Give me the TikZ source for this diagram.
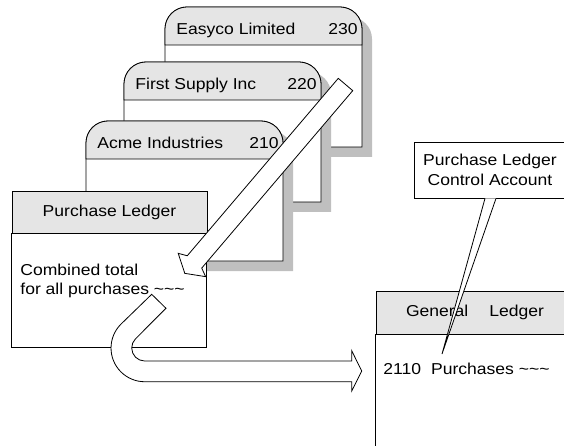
\documentclass[tikz,border=0pt]{standalone}
\usepackage{fontspec}
\setmainfont{Liberation Sans}[FakeStretch=1.11]
\usetikzlibrary{calc}

\definecolor{headgray}{gray}{0.9}
\definecolor{shadowgray}{gray}{0.75}

\tikzset{
  lbl/.style={inner sep=0pt},
  head/.style={draw, fill=headgray, inner sep=0pt},
  blockarrow/.style={draw, fill=white, line join=miter},
}

% subsidiary ledger card: x, top, name, supplier, account
\newcommand\ledgercard[5]{%
  \fill[shadowgray] (#1+10,#2+150) -- (#1+10,#2+32) arc[start angle=180,end angle=90,radius=22pt]
    -- (#1+185,#2+10) arc[start angle=90,end angle=0,radius=22pt] -- (#1+207,#2+150) -- cycle;
  \filldraw[fill=white] (#1,#2+140) -- (#1,#2+22) arc[start angle=180,end angle=90,radius=22pt]
    -- (#1+175,#2) arc[start angle=90,end angle=0,radius=22pt] -- (#1+197,#2+140) -- cycle;
  \filldraw[fill=headgray] (#1,#2+38) -- (#1,#2+22) arc[start angle=180,end angle=90,radius=22pt]
    -- (#1+175,#2) arc[start angle=90,end angle=0,radius=22pt] -- (#1+197,#2+38) -- cycle;
  \node[lbl, anchor=base west] (#3) at (#1+11,#2+27.5) {#4};
  \node[lbl, anchor=base east] (#3no) at (#1+193,#2+27.5) {#5};
}

\begin{document}
\begin{tikzpicture}[x=1pt, y=-1pt, line width=0.8pt,
    font=\fontsize{15.8}{19.5}\selectfont]
  \useasboundingbox (0,0) rectangle (564,446);
  \clip (0,0) rectangle (564,446);

  \ledgercard{165}{7}{easyco}{Easyco Limited}{230}
  \ledgercard{124}{62}{firstsup}{First Supply Inc}{220}
  \ledgercard{86}{121}{acme}{Acme Industries}{210}

  % purchase ledger
  \node[head, minimum width=195pt, minimum height=42pt] (plhead) at (109.5,212) {Purchase Ledger};
  \draw[fill=white] (plhead.south west) rectangle ++(195,114);
  \node[lbl, anchor=north west, align=left] (pltotal) at (20,263.5)
    {Combined total\\for all purchases \textasciitilde\textasciitilde\textasciitilde};

  % posting the total across
  \filldraw[blockarrow] (151.7,294.3) -- (120.9,324.2) arc[start angle=135,end angle=270,radius=33.7pt]
    -- (351.7,381.7) -- (351.7,391) -- (361.7,371) -- (351.7,350.7) -- (351.7,361)
    -- (144.7,361) arc[start angle=270,end angle=135,radius=13pt] -- (166,308.3) -- cycle;

  % cards summed into the ledger
  \begin{scope}[shift={(345.5,84.5)}, rotate=229.6]
    \filldraw[blockarrow] (0,-9.5) -- (233,-9.5) -- (237,-18) -- (248,0) -- (237,18)
      -- (233,9.5) -- (0,9.5) -- cycle;
  \end{scope}

  % general ledger
  \node[head, minimum width=198pt, minimum height=43pt] (glhead) at (475,312.5) {General\hspace{21pt}Ledger};
  \draw[fill=white] (glhead.south west) rectangle ++(198,130);
  \node[lbl, anchor=base west] (glpurch) at (383,374)
    {2110\hspace{10pt}Purchases \textasciitilde\textasciitilde\textasciitilde};

  \node[draw, fill=white, minimum width=152pt, minimum height=56pt, align=center] (ctrl) at (490,170)
    {Purchase Ledger\\[1pt]Control Account};
  \coordinate (ctrltip) at (442,354);
  \filldraw[fill=white] ($(ctrl.south)+(-5,0)$) -- (ctrltip) -- ($(ctrl.south)+(6,0)$);
\end{tikzpicture}
\end{document}
